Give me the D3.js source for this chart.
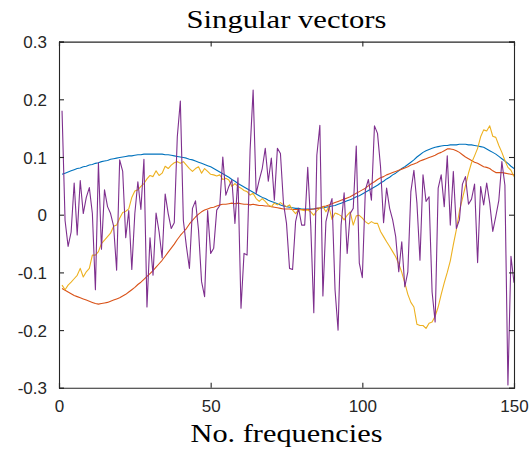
<!DOCTYPE html>
<html>
<head>
<meta charset="utf-8">
<script src="https://cdn.jsdelivr.net/npm/d3@7"></script>
<style>
  html, body { margin: 0; padding: 0; background: #fff; }
  svg { display: block; }
  .tick text { font-family: "Liberation Sans", Arial, sans-serif; font-size: 17px; fill: #262626; }
  .ttl { font-family: "Liberation Serif", "DejaVu Serif", serif; fill: #000; }
</style>
</head>
<body>
<svg id="chart" width="529" height="450"></svg>
<script>
// Singular vectors: four components sampled over 150 frequencies
const xTicks = [0, 50, 100, 150];
const yTicks = [-0.3, -0.2, -0.1, 0, 0.1, 0.2, 0.3];
const yTickLabels = ["-0.3", "-0.2", "-0.1", "0", "0.1", "0.2", "0.3"];

const vec1 = [
  0.070,0.072,0.074,0.076,0.078,0.080,0.081,0.083,0.084,0.086,
  0.087,0.089,0.090,0.092,0.093,0.094,0.096,0.097,0.098,0.099,
  0.100,0.101,0.102,0.102,0.103,0.104,0.104,0.105,0.105,0.105,
  0.105,0.105,0.105,0.105,0.104,0.104,0.103,0.102,0.101,0.100,
  0.099,0.098,0.096,0.095,0.093,0.091,0.089,0.087,0.085,0.083,
  0.080,0.077,0.074,0.071,0.068,0.065,0.061,0.058,0.054,0.051,
  0.048,0.045,0.042,0.039,0.036,0.033,0.030,0.028,0.025,0.023,
  0.021,0.019,0.017,0.015,0.014,0.013,0.012,0.011,0.011,0.010,
  0.010,0.010,0.010,0.010,0.011,0.011,0.012,0.013,0.014,0.015,
  0.016,0.018,0.020,0.022,0.024,0.026,0.028,0.031,0.033,0.036,
  0.039,0.042,0.045,0.048,0.051,0.055,0.058,0.062,0.065,0.069,
  0.072,0.076,0.080,0.083,0.087,0.091,0.095,0.100,0.104,0.108,
  0.111,0.113,0.115,0.117,0.118,0.119,0.120,0.120,0.121,0.121,
  0.121,0.122,0.122,0.122,0.121,0.121,0.120,0.119,0.118,0.117,
  0.114,0.111,0.108,0.105,0.101,0.097,0.093,0.089,0.084,0.080
];

const vec2 = [
  -0.128,-0.131,-0.134,-0.137,-0.140,-0.142,-0.144,-0.146,-0.148,-0.150,
  -0.152,-0.154,-0.155,-0.154,-0.153,-0.152,-0.150,-0.148,-0.146,-0.144,
  -0.141,-0.138,-0.134,-0.130,-0.126,-0.121,-0.117,-0.112,-0.107,-0.102,
  -0.097,-0.091,-0.085,-0.079,-0.072,-0.065,-0.058,-0.051,-0.043,-0.036,
  -0.030,-0.024,-0.016,-0.010,-0.004,0.001,0.005,0.008,0.010,0.012,
  0.013,0.015,0.017,0.018,0.018,0.019,0.020,0.019,0.020,0.019,
  0.018,0.018,0.017,0.018,0.017,0.016,0.016,0.015,0.015,0.014,
  0.013,0.012,0.011,0.010,0.010,0.010,0.009,0.009,0.009,0.009,
  0.009,0.009,0.009,0.010,0.011,0.012,0.014,0.015,0.017,0.019,
  0.021,0.023,0.025,0.027,0.029,0.031,0.034,0.037,0.040,0.043,
  0.046,0.050,0.054,0.057,0.061,0.064,0.066,0.069,0.071,0.073,
  0.075,0.077,0.079,0.081,0.083,0.086,0.088,0.090,0.093,0.095,
  0.097,0.099,0.101,0.103,0.106,0.108,0.111,0.114,0.114,0.113,
  0.111,0.108,0.104,0.100,0.097,0.094,0.091,0.089,0.086,0.083,
  0.082,0.080,0.076,0.073,0.073,0.073,0.072,0.071,0.070,0.069
];

const vec3 = [
  -0.122,-0.130,-0.122,-0.117,-0.111,-0.105,-0.093,-0.108,-0.099,-0.093,
  -0.070,-0.070,-0.064,-0.050,-0.044,-0.038,-0.032,-0.020,-0.018,-0.006,
  0.004,0.006,0.010,0.030,0.041,0.043,0.049,0.054,0.062,0.068,
  0.066,0.076,0.068,0.072,0.084,0.080,0.086,0.090,0.092,0.089,
  0.092,0.086,0.080,0.075,0.080,0.083,0.072,0.080,0.075,0.070,
  0.069,0.067,0.069,0.061,0.063,0.060,0.049,0.054,0.049,0.046,
  0.042,0.040,0.034,0.037,0.028,0.023,0.028,0.023,0.017,0.014,
  0.020,0.017,0.021,0.017,0.014,0.017,0.008,0.002,0.009,0.008,
  0.007,0.008,0.005,-0.001,0.007,0.011,0.014,0.005,0.014,-0.008,
  0.003,0.001,-0.002,-0.009,-0.001,0.005,-0.018,-0.002,-0.001,-0.006,
  -0.012,-0.016,-0.012,-0.015,-0.015,-0.029,-0.038,-0.047,-0.055,-0.064,
  -0.073,-0.085,-0.100,-0.118,-0.138,-0.152,-0.160,-0.190,-0.192,-0.192,
  -0.197,-0.188,-0.186,-0.176,-0.160,-0.138,-0.118,-0.100,-0.080,-0.052,
  -0.026,0.006,0.028,0.050,0.072,0.090,0.102,0.115,0.135,0.147,
  0.145,0.154,0.136,0.134,0.120,0.108,0.094,0.082,0.077,0.066
];

const vec4 = [
  0.180,-0.010,-0.055,-0.030,0.055,-0.035,0.059,0.002,0.030,0.047,
  0.002,-0.130,0.090,-0.060,0.043,0.014,0.002,-0.020,-0.096,0.095,
  0.075,-0.040,0.007,-0.095,0.002,0.057,0.009,0.096,-0.160,-0.040,
  -0.105,0.003,-0.030,-0.075,0.036,0.002,-0.024,-0.014,0.135,0.197,
  -0.010,-0.055,-0.093,0.011,0.024,-0.027,-0.116,-0.142,0.007,-0.067,
  -0.058,0.008,0.016,0.100,0.034,0.049,0.060,-0.015,0.064,-0.162,
  -0.067,-0.070,0.112,0.216,0.037,0.060,0.080,0.115,0.058,0.098,
  0.025,0.115,0.106,0.020,-0.015,-0.093,-0.095,-0.012,0.011,-0.018,
  -0.018,0.082,-0.020,-0.170,0.103,0.155,-0.141,-0.012,0.011,0.028,
  -0.130,-0.200,-0.018,0.038,-0.067,0.002,0.011,0.119,-0.084,-0.109,
  0.043,0.061,0.025,0.154,0.141,0.083,-0.014,0.046,0.011,-0.009,
  -0.038,-0.099,-0.047,-0.125,-0.099,0.040,0.077,0.020,-0.079,0.069,
  0.023,0.031,-0.134,-0.186,0.046,0.069,0.014,0.102,-0.018,0.075,
  -0.024,-0.009,0.053,0.066,0.018,0.027,0.053,-0.083,0.049,0.017,
  0.055,0.020,-0.029,-0.003,0.025,0.092,0.051,-0.295,-0.072,-0.118
];

const seriesColors = ["#0072BD", "#D95319", "#EDB120", "#7E2F8E"];
const allSeries = [vec1, vec2, vec3, vec4];

const margin = { left: 59, right: 514, top: 41.6, bottom: 387.8 };
const svg = d3.select("#chart");

const x = d3.scaleLinear().domain([0, 150]).range([margin.left, margin.right]);
const y = d3.scaleLinear().domain([-0.3, 0.3]).range([margin.bottom, margin.top]);

const line = d3.line()
  .x((d, i) => x(i + 1))
  .y(d => y(d));

const plot = svg.append("g");
allSeries.forEach((s, k) => {
  plot.append("path")
    .datum(s)
    .attr("fill", "none")
    .attr("stroke", seriesColors[k])
    .attr("stroke-width", 1.1)
    .attr("stroke-linejoin", "round")
    .attr("d", line);
});

const axisColor = "#262626";
const tickLen = 5;

// bottom axis with labels, inward ticks
const gx = svg.append("g").attr("transform", `translate(0,${margin.bottom})`)
  .call(d3.axisBottom(x).tickValues(xTicks).tickSize(-tickLen).tickPadding(12).tickFormat(d3.format("d")));
// top axis mirror ticks
const gxt = svg.append("g").attr("transform", `translate(0,${margin.top})`)
  .call(d3.axisTop(x).tickValues(xTicks).tickSize(-tickLen).tickFormat(""));
// left axis with labels
const gy = svg.append("g").attr("transform", `translate(${margin.left},0)`)
  .call(d3.axisLeft(y).tickValues(yTicks).tickSize(-tickLen).tickPadding(12)
    .tickFormat((d, i) => yTickLabels[i]));
// right axis mirror ticks
const gyr = svg.append("g").attr("transform", `translate(${margin.right},0)`)
  .call(d3.axisRight(y).tickValues(yTicks).tickSize(-tickLen).tickFormat(""));

[gx, gxt, gy, gyr].forEach(g => {
  g.select(".domain").attr("stroke", axisColor).attr("stroke-width", 1.1);
  g.selectAll(".tick line").attr("stroke", axisColor).attr("stroke-width", 1.1);
  g.selectAll(".tick text").attr("fill", axisColor);
});
gy.selectAll(".tick text").attr("dy", "0.36em");
gx.selectAll(".tick text").attr("dy", "0.71em");

// serif titles, widened to the proportions of a Computer Modern face
svg.append("text").attr("class", "ttl")
  .attr("x", (margin.left + margin.right) / 2).attr("y", 28)
  .attr("text-anchor", "middle").attr("font-size", 26)
  .attr("textLength", 200).attr("lengthAdjust", "spacingAndGlyphs")
  .text("Singular vectors");

svg.append("text").attr("class", "ttl")
  .attr("x", (margin.left + margin.right) / 2).attr("y", 442)
  .attr("text-anchor", "middle").attr("font-size", 26)
  .attr("textLength", 192).attr("lengthAdjust", "spacingAndGlyphs")
  .text("No. frequencies");
</script>
</body>
</html>
